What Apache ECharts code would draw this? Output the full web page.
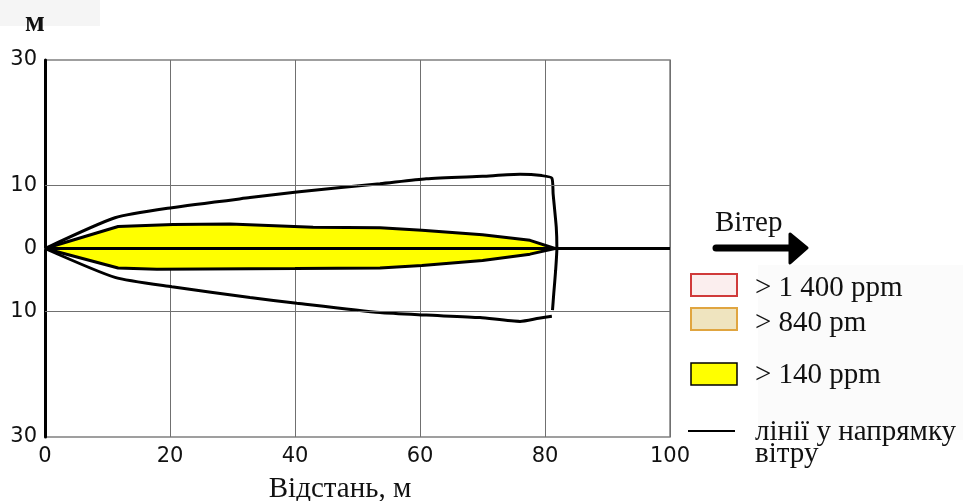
<!DOCTYPE html>
<html>
<head>
<meta charset="utf-8">
<script src="https://cdn.jsdelivr.net/npm/echarts@6/dist/echarts.min.js"></script>
<style>html,body{margin:0;padding:0;background:#fff}#c{width:963px;height:501px}</style>
</head>
<body>
<div id="c"></div>
<script>
// Data
const xTicks = [0, 20, 40, 60, 80, 100];
const yTickLabels = [30, 10, 0, 10, 30];
const yGridValues = [-10, 10];
const outerUpperX = [0, 11.2, 20.3, 32.8, 40.3, 53.6, 61, 70, 76, 79.5, 81.1, 81.3, 81.8, 81.9, 81.7, 81.4, 81.2];
const outerUpperY = [0, 4.9, 6.5, 8.1, 9.0, 10.3, 11.1, 11.5, 11.8, 11.6, 11.2, 8.7, 3.4, 0, -3.5, -7.2, -9.8];
const outerLowerX = [81.1, 79, 76, 69.6, 61, 53.6, 40.3, 32.8, 20.3, 11.2, 0];
const outerLowerY = [-10.8, -11.1, -11.6, -11.0, -10.6, -10.2, -8.7, -7.8, -6.1, -4.6, 0];
const zoneUpperX = [0, 11.7, 20.5, 29.6, 42.9, 53.6, 60.3, 70, 77.6, 81.6];
const zoneUpperY = [0, 3.5, 3.8, 3.9, 3.4, 3.3, 2.9, 2.2, 1.3, 0];
const zoneLowerX = [0, 11.7, 17.9, 40, 53.6, 60.3, 70, 77.6, 81.6];
const zoneLowerY = [0, -3.1, -3.3, -3.2, -3.1, -2.7, -1.9, -0.9, 0];
const centerX = [0, 100];
const centerY = [0, 0];
const legendLabels = ['> 1 400 ppm', '> 840 pm', '> 140 ppm', 'лінії у напрямку\nвітру'];
const windLabel = 'Вітер';
const xAxisName = 'Відстань, м';
const yAxisName = 'м';

const zip = (xs, ys) => xs.map((x, i) => [x, ys[i]]);
const serif = 'Liberation Serif';
const sans = 'DejaVu Sans';

const chart = echarts.init(document.getElementById('c'));
chart.setOption({
  animation: false,
  backgroundColor: '#fff',
  grid: { left: 45, right: 293, top: 60, bottom: 64, outerBoundsMode: 'none', containLabel: false,
          show: true, borderColor: '#808080', borderWidth: 1.5, backgroundColor: 'transparent' },
  xAxis: {
    type: 'value', min: xTicks[0], max: xTicks[xTicks.length - 1], interval: 20,
    axisLine: { show: true, lineStyle: { color: '#808080', width: 1.5 } },
    axisTick: { show: false },
    splitLine: { show: true, lineStyle: { color: '#707070', width: 1 } },
    axisLabel: { fontFamily: sans, fontSize: 21, color: '#111', margin: 9 },
    name: xAxisName, nameLocation: 'middle', nameGap: 38,
    nameTextStyle: { fontFamily: serif, fontSize: 29, color: '#111', padding: [0, 35, 0, 0] }
  },
  yAxis: {
    type: 'value', min: -30, max: 30, interval: 10,
    axisLine: { show: true, onZero: false, lineStyle: { color: '#000', width: 3 } },
    axisTick: { show: false },
    splitLine: { show: false },
    axisLabel: {
      fontFamily: sans, fontSize: 21, color: '#111', margin: 8,
      formatter: v => (yTickLabels.indexOf(Math.abs(v)) >= 0 ? String(Math.abs(v)) : '')
    }
  },
  series: [
    {
      type: 'line', data: [], silent: true, z: 1,
      markLine: {
        silent: true, symbol: 'none', label: { show: false },
        lineStyle: { color: '#707070', width: 1, type: 'solid' },
        data: yGridValues.map(v => ({ yAxis: v }))
      }
    },
    { type: 'line', data: zip(zoneUpperX, zoneUpperY), symbol: 'none', z: 3,
      lineStyle: { color: '#000', width: 3 }, areaStyle: { color: '#ffff00', opacity: 1 } },
    { type: 'line', data: zip(zoneLowerX, zoneLowerY), symbol: 'none', z: 3,
      lineStyle: { color: '#000', width: 3 }, areaStyle: { color: '#ffff00', opacity: 1 } },
    { type: 'line', data: zip(outerUpperX, outerUpperY), symbol: 'none', z: 4, smooth: 0.2,
      lineStyle: { color: '#000', width: 3 } },
    { type: 'line', data: zip(outerLowerX, outerLowerY), symbol: 'none', z: 4, smooth: 0.2,
      lineStyle: { color: '#000', width: 3 } },
    { type: 'line', data: zip(centerX, centerY), symbol: 'none', z: 5,
      lineStyle: { color: '#000', width: 3 } }
  ],
  graphic: [
    { type: 'rect', shape: { x: 0, y: 0, width: 100, height: 26 }, style: { fill: '#f5f5f5' }, z: -1, silent: true },
    { type: 'rect', shape: { x: 758, y: 265, width: 205, height: 175 }, style: { fill: '#fbfbfb' }, z: -1, silent: true },
    { type: 'text', x: 35, y: 24, style: { text: yAxisName, fontFamily: serif, fontSize: 29, fontWeight: 'bold', fill: '#111', align: 'center', verticalAlign: 'middle' } },
    { type: 'text', x: 715, y: 223, style: { text: windLabel, fontFamily: serif, fontSize: 29, fill: '#111', align: 'left', verticalAlign: 'middle' } },
    { type: 'line', shape: { x1: 716, y1: 248, x2: 792, y2: 248 }, style: { stroke: '#000', lineWidth: 7, lineCap: 'round' } },
    { type: 'polygon', shape: { points: [[790, 234], [807, 248], [790, 263]] }, style: { fill: '#000', stroke: '#000', lineWidth: 3, lineJoin: 'round' } },
    { type: 'rect', shape: { x: 691, y: 274, width: 46, height: 22 }, style: { fill: '#fbeeee', stroke: '#d03a3a', lineWidth: 2 } },
    { type: 'text', x: 755, y: 288, style: { text: legendLabels[0], fontFamily: serif, fontSize: 29, fill: '#111', align: 'left', verticalAlign: 'middle' } },
    { type: 'rect', shape: { x: 691, y: 308, width: 46, height: 22 }, style: { fill: '#efe4bf', stroke: '#e0a540', lineWidth: 2 } },
    { type: 'text', x: 755, y: 323, style: { text: legendLabels[1], fontFamily: serif, fontSize: 29, fill: '#111', align: 'left', verticalAlign: 'middle' } },
    { type: 'rect', shape: { x: 691, y: 363, width: 46, height: 22 }, style: { fill: '#ffff00', stroke: '#000', lineWidth: 1.5 } },
    { type: 'text', x: 755, y: 375, style: { text: legendLabels[2], fontFamily: serif, fontSize: 29, fill: '#111', align: 'left', verticalAlign: 'middle' } },
    { type: 'line', shape: { x1: 688, y1: 431, x2: 735, y2: 431 }, style: { stroke: '#000', lineWidth: 2 } },
    { type: 'text', x: 755, y: 443, style: { text: legendLabels[3], fontFamily: serif, fontSize: 29, lineHeight: 22, fill: '#111', align: 'left', verticalAlign: 'middle' } }
  ]
});
</script>
</body>
</html>
